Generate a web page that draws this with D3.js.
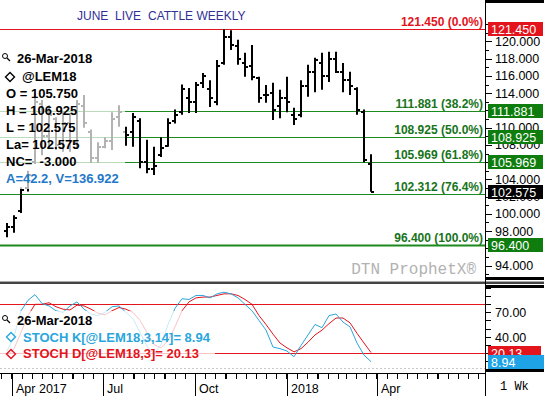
<!DOCTYPE html>
<html lang="en">
<head>
<meta charset="UTF-8">
<title>June Live Cattle Weekly</title>
<script src="https://cdnjs.cloudflare.com/ajax/libs/d3/7.8.5/d3.min.js"></script>
<style>
  * { margin: 0; padding: 0; }
  body { background: #fff; width: 544px; height: 396px; overflow: hidden; }
  svg { display: block; font-family: 'Liberation Sans', Arial, sans-serif; }
  text { white-space: pre; }
</style>
</head>
<body>
<div id="chart"></div>
<script>
// weekly bars, June 2018 live cattle
const weeks = [
  "2017-03-27","2017-04-03","2017-04-10","2017-04-17","2017-04-24","2017-05-01","2017-05-08","2017-05-15",
  "2017-05-22","2017-05-29","2017-06-05","2017-06-12","2017-06-19","2017-06-26","2017-07-03","2017-07-10",
  "2017-07-17","2017-07-24","2017-07-31","2017-08-07","2017-08-14","2017-08-21","2017-08-28","2017-09-04",
  "2017-09-11","2017-09-18","2017-09-25","2017-10-02","2017-10-09","2017-10-16","2017-10-23","2017-10-30",
  "2017-11-06","2017-11-13","2017-11-20","2017-11-27","2017-12-04","2017-12-11","2017-12-18","2017-12-25",
  "2018-01-01","2018-01-08","2018-01-15","2018-01-22","2018-01-29","2018-02-05","2018-02-12","2018-02-19",
  "2018-02-26","2018-03-05","2018-03-12","2018-03-19","2018-03-26"
];
const opens  = [98.0, 98.5, 100.3, 103.0, 106.0, 112.8, 109.0, 111.0, 108.2, 110.5, 108.3, 112.5, 109.5, 106.5, 107.8, 108.5,
  111.2, 109.5, 109.5, 110.8, 106.0, 105.2, 106.8, 107.9, 110.8, 111.8, 113.5, 113.0, 115.2, 114.5, 113.0, 117.5,
  120.5, 119.5, 117.5, 117.2, 115.8, 113.8, 114.0, 112.5, 113.5, 111.5, 111.5, 114.8, 116.5, 117.5, 116.0, 118.0,
  116.5, 115.5, 114.5, 111.8, 105.75];
const highs  = [98.95, 99.85, 103.1, 105.0, 114.0, 113.2, 112.6, 111.2, 111.8, 111.7, 113.2, 113.8, 109.8, 108.3, 108.9, 111.8,
  112.6, 110.1, 111.7, 111.1, 108.6, 107.8, 108.9, 111.1, 112.1, 115.0, 114.6, 115.3, 116.35, 115.5, 117.85, 121.45,
  121.3, 120.2, 118.7, 119.6, 115.9, 114.95, 115.2, 114.4, 115.9, 112.3, 115.5, 117.3, 118.1, 118.7, 118.8, 118.8,
  117.5, 116.5, 114.7, 112.1, 106.925];
const lows   = [97.3, 97.8, 100.1, 102.6, 105.8, 106.8, 107.8, 107.4, 107.2, 107.2, 107.6, 110.0, 105.9, 105.9, 107.6, 107.4,
  110.1, 107.9, 107.8, 105.3, 104.7, 104.5, 106.6, 107.8, 110.5, 111.5, 111.7, 111.7, 114.6, 112.4, 112.6, 117.3,
  119.0, 117.3, 115.9, 115.5, 112.9, 112.9, 110.9, 111.1, 111.8, 110.3, 111.2, 113.6, 114.1, 114.4, 115.3, 116.35,
  114.1, 113.8, 111.5, 106.0, 102.575];
const closes = [98.5, 99.5, 102.8, 104.5, 113.0, 109.0, 111.5, 108.0, 110.5, 108.5, 112.8, 110.5, 106.5, 107.8, 108.5, 111.0,
  111.8, 109.2, 111.2, 106.0, 105.2, 105.6, 107.6, 110.5, 111.5, 114.5, 113.0, 115.0, 116.0, 113.5, 117.2, 120.5,
  119.6, 118.0, 117.0, 115.9, 113.5, 113.8, 112.0, 113.5, 113.0, 111.0, 114.8, 116.5, 117.8, 116.0, 118.0, 116.5,
  115.5, 114.8, 112.0, 106.2, 102.575];

// stochastics
const stochK = [22, 40, 72, 85, 92, 81, 78, 72, 70, 78, 83, 74, 68, 66, 70, 77,
  78, 70, 62, 45, 28, 18, 30, 55, 75, 87, 86, 91, 91, 88, 93, 95,
  93, 88, 80, 72, 60, 48, 27, 25, 22, 15, 29, 42, 55, 51, 66, 68,
  58, 52, 32, 17, 8.94];
const stochD = [15, 25, 45, 66, 80, 80, 82, 77, 74, 73, 79, 78, 74, 69, 67, 72,
  76, 74, 70, 60, 45, 30, 26, 35, 52, 72, 83, 88, 89, 89, 91, 93,
  93, 91, 86, 80, 66, 55, 43, 32, 26, 21, 25, 33, 42, 48, 56, 63,
  63, 57, 44, 32, 20.13];

const fibLevels = [121.450, 111.881, 108.925, 105.969, 102.312, 96.400];
const fibPcts = ["0.0%", "38.2%", "50.0%", "61.8%", "76.4%", "100.0%"];
const lastPrice = 102.575;
// 96, 106 and 112 sit fully under the value boxes, so they are left out
const priceLabels = [94, 98, 100, 102, 104, 108, 110, 114, 116, 118, 120];
const stochLabels = [70, 40];
const stochBands = [80, 20];
const dateLabels = ["2017-04-01", "2017-07-01", "2017-10-01", "2018-01-01", "2018-04-01"];
const dateNames = ["Apr 2017", "Jul", "Oct", "2018", "Apr"];
const legendRows = ["O = 105.750", "H = 106.925", "L = 102.575", "La= 102.575", "NC=  -3.000"];

const parse = d3.timeParse("%Y-%m-%d");
const bars = weeks.map((w, i) => ({ date: parse(w), o: opens[i], h: highs[i], l: lows[i], c: closes[i], k: stochK[i], d: stochD[i] }));

const W = 544, H = 396, plotRight = 485;
const RED = "#e3141c", GREEN = "#1d8a1d", GREEN_BOX = "#0e7d0e", TXT_GREEN = "#17741a", BLUE = "#2aa6dc";

const svg = d3.select("#chart").append("svg").attr("width", W).attr("height", H);

const x = d3.scaleTime().domain([parse("2017-03-20"), parse("2018-07-18")]).range([0, plotRight]);
const y = d3.scaleLinear().domain([96.4, 121.45]).range([244.9, 29]);
const ys = d3.scaleLinear().domain([0, 100]).range([368.8, 288.2]);
const px = d => Math.round(x(d));
const crisp = v => Math.round(v) + 0.5;

// ---- title
const title = svg.append("g").attr("fill", "#2f2f96").attr("font-size", 12);
title.append("text").attr("x", 77).attr("y", 20).text("JUNE");
title.append("text").attr("x", 115).attr("y", 20).text("LIVE");
title.append("text").attr("x", 148).attr("y", 20).text("CATTLE WEEKLY");

// ---- price panel
const price = svg.append("g");

price.selectAll(".fib")
  .data(fibLevels)
  .enter().append("line")
  .attr("x1", 0).attr("x2", plotRight)
  .attr("y1", d => crisp(y(d))).attr("y2", d => crisp(y(d)))
  .attr("stroke", (d, i) => i === 0 ? RED : GREEN)
  .attr("stroke-width", (d, i) => i === fibLevels.length - 1 ? 2 : 1);

const bar = price.selectAll(".bar").data(bars).enter().append("g").attr("stroke", "#000").attr("stroke-width", 2);
bar.append("line").attr("x1", d => px(d.date)).attr("x2", d => px(d.date)).attr("y1", d => y(d.h)).attr("y2", d => y(d.l));
bar.append("line").attr("x1", d => px(d.date) - 3).attr("x2", d => px(d.date)).attr("y1", d => Math.round(y(d.o))).attr("y2", d => Math.round(y(d.o)));
bar.append("line").attr("x1", d => px(d.date)).attr("x2", d => px(d.date) + 3).attr("y1", d => Math.round(y(d.c))).attr("y2", d => Math.round(y(d.c)));

// legend (semi transparent box over the bars)
price.append("rect").attr("x", 0).attr("y", 48).attr("width", 125).attr("height", 141).attr("fill", "#fff").attr("opacity", 0.7);
const leg = price.append("g").attr("font-size", 13).attr("font-weight", "bold").attr("fill", "#000");
function magnifier(g, cx, cy) {
  g.append("circle").attr("cx", cx).attr("cy", cy).attr("r", 2.5).attr("fill", "none").attr("stroke", "#000").attr("stroke-width", 1);
  g.append("line").attr("x1", cx + 2).attr("y1", cy + 2).attr("x2", cx + 5).attr("y2", cy + 5).attr("stroke", "#000").attr("stroke-width", 1.3);
}
function diamond(g, cx, cy, color) {
  g.append("path").attr("d", `M${cx},${cy - 4.5}L${cx + 4.5},${cy}L${cx},${cy + 4.5}L${cx - 4.5},${cy}Z`)
    .attr("fill", "none").attr("stroke", color).attr("stroke-width", 1.4);
}
magnifier(leg, 5, 56);
leg.append("text").attr("x", 17).attr("y", 63).text("26-Mar-2018");
diamond(leg, 10, 77, "#000");
leg.append("text").attr("x", 22).attr("y", 81).text("@LEM18");
leg.selectAll(".row").data(legendRows).enter().append("text")
  .attr("x", 6).attr("y", (d, i) => 98 + i * 17).text(d => d);
leg.append("text").attr("x", 6).attr("y", 183).attr("fill", "#2378c8").text("A=42.2, V=136.922");

// fib labels
price.selectAll(".fibLabel").data(fibLevels).enter().append("text")
  .attr("x", 483).attr("y", d => Math.round(y(d)) - 3)
  .attr("text-anchor", "end").attr("font-size", 12).attr("font-weight", "bold")
  .attr("fill", (d, i) => i === 0 ? RED : TXT_GREEN)
  .text((d, i) => `${d.toFixed(3)} (${fibPcts[i]})`);

svg.append("text").attr("x", 476).attr("y", 274).attr("text-anchor", "end")
  .attr("font-family", "'Liberation Mono', 'DejaVu Sans Mono', monospace").attr("font-size", 16)
  .attr("fill", "#b2b2b2").text("DTN ProphetX®");

// ---- price axis
const ax = svg.append("g");
ax.selectAll(".tick").data(d3.range(93, 123)).enter().append("line")
  .attr("x1", 486).attr("x2", d => d % 2 === 0 ? 492 : 489)
  .attr("y1", d => crisp(y(d))).attr("y2", d => crisp(y(d)))
  .attr("stroke", "#000");
ax.selectAll(".lbl").data(priceLabels).enter().append("text")
  .attr("x", 495).attr("y", d => y(d) + 4.5).attr("font-size", 12.5).attr("fill", "#000")
  .text(d => d.toFixed(3));
const boxVals = fibLevels.concat([lastPrice]);
const boxCols = [RED, GREEN_BOX, GREEN_BOX, GREEN_BOX, null, GREEN_BOX, "#000"];
boxVals.forEach((v, i) => {
  if (!boxCols[i]) return;
  const yy = Math.round(y(v));
  ax.append("rect").attr("x", 488).attr("y", yy - 7).attr("width", 55).attr("height", 14).attr("fill", boxCols[i]);
  ax.append("text").attr("x", 491).attr("y", yy + 5).attr("font-size", 12.5).attr("fill", "#fff").text(v.toFixed(3));
});

// ---- panel separator
svg.append("rect").attr("x", 0).attr("y", 281).attr("width", W).attr("height", 1).attr("fill", "#aaa");
svg.append("rect").attr("x", 0).attr("y", 282).attr("width", W).attr("height", 2).attr("fill", "#444");

// ---- stochastic panel
const st = svg.append("g");
st.selectAll(".band").data(stochBands).enter().append("line")
  .attr("x1", 0).attr("x2", plotRight)
  .attr("y1", d => crisp(ys(d))).attr("y2", d => crisp(ys(d)))
  .attr("stroke", RED);
st.append("line").attr("x1", 0).attr("x2", plotRight).attr("y1", 368.5).attr("y2", 368.5)
  .attr("stroke", "#c8c8c8").attr("stroke-dasharray", "2,2");

const kLine = d3.line().x(d => px(d.date)).y(d => ys(d.k));
const dLine = d3.line().x(d => px(d.date)).y(d => ys(d.d));
st.append("path").datum(bars).attr("d", dLine).attr("fill", "none").attr("stroke", RED).attr("stroke-width", 1);
st.append("path").datum(bars).attr("d", kLine).attr("fill", "none").attr("stroke", BLUE).attr("stroke-width", 1);

st.append("rect").attr("x", 0).attr("y", 311).attr("width", 215).attr("height", 51).attr("fill", "#fff").attr("opacity", 0.75);
const sl = st.append("g").attr("font-size", 13).attr("font-weight", "bold");
magnifier(sl, 5, 318);
sl.append("text").attr("x", 17).attr("y", 325).attr("fill", "#000").text("26-Mar-2018");
diamond(sl, 11, 337, BLUE);
sl.append("text").attr("x", 23).attr("y", 342).attr("fill", BLUE).text("STOCH K[@LEM18,3,14]= 8.94");
diamond(sl, 11, 354, RED);
sl.append("text").attr("x", 23).attr("y", 358).attr("fill", RED).text("STOCH D[@LEM18,3]= 20.13");

// stochastic axis
st.selectAll(".stick").data(d3.range(0, 101, 10)).enter().append("line")
  .attr("x1", 486).attr("x2", 491)
  .attr("y1", d => crisp(ys(d))).attr("y2", d => crisp(ys(d))).attr("stroke", "#000");
st.selectAll(".slbl").data(stochLabels).enter().append("text")
  .attr("x", 495).attr("y", d => ys(d) + 5).attr("font-size", 12.5).attr("fill", "#000")
  .text(d => d.toFixed(2));
const dLast = stochD[stochD.length - 1], kLast = stochK[stochK.length - 1];
st.append("rect").attr("x", 488).attr("y", Math.round(ys(dLast)) - 7).attr("width", 53).attr("height", 14).attr("fill", RED);
st.append("text").attr("x", 491).attr("y", Math.round(ys(dLast)) + 5).attr("font-size", 12.5).attr("fill", "#fff").text(dLast.toFixed(2));
st.append("rect").attr("x", 488).attr("y", Math.round(ys(kLast)) - 7).attr("width", 56).attr("height", 15).attr("fill", "#1ea4e6");
st.append("text").attr("x", 491).attr("y", Math.round(ys(kLast)) + 5).attr("font-size", 12.5).attr("fill", "#fff").text(kLast.toFixed(2));

// ---- axis frame bits
svg.append("line").attr("x1", 485.5).attr("x2", 485.5).attr("y1", 0).attr("y2", H).attr("stroke", "#000");
[[0, 3], [277, 3], [285, 3], [369, 3]].forEach(([yy, h]) => {
  svg.append("rect").attr("x", 486).attr("y", yy).attr("width", W - 486).attr("height", h).attr("fill", "#000");
});

// ---- time axis
const ta = svg.append("g");
ta.append("line").attr("x1", 0).attr("x2", plotRight).attr("y1", 373.5).attr("y2", 373.5).attr("stroke", "#000");
ta.selectAll(".minor").data(x.ticks(d3.timeDay.every(10))).enter().append("line")
  .attr("x1", d => crisp(x(d))).attr("x2", d => crisp(x(d)))
  .attr("y1", 374).attr("y2", 379).attr("stroke", "#000");
const majors = dateLabels.map(parse);
ta.selectAll(".major").data(majors).enter().append("line")
  .attr("x1", d => crisp(x(d))).attr("x2", d => crisp(x(d)))
  .attr("y1", 374).attr("y2", H).attr("stroke", "#000");
ta.selectAll(".mlbl").data(majors).enter().append("text")
  .attr("x", d => x(d) + 4).attr("y", 393).attr("font-size", 12.5).attr("fill", "#000")
  .text((d, i) => dateNames[i]);
svg.append("text").attr("x", 500).attr("y", 390)
  .attr("font-family", "'Liberation Mono', 'DejaVu Sans Mono', monospace").attr("font-size", 12)
  .attr("fill", "#000").text("1 Wk");
</script>
</body>
</html>
